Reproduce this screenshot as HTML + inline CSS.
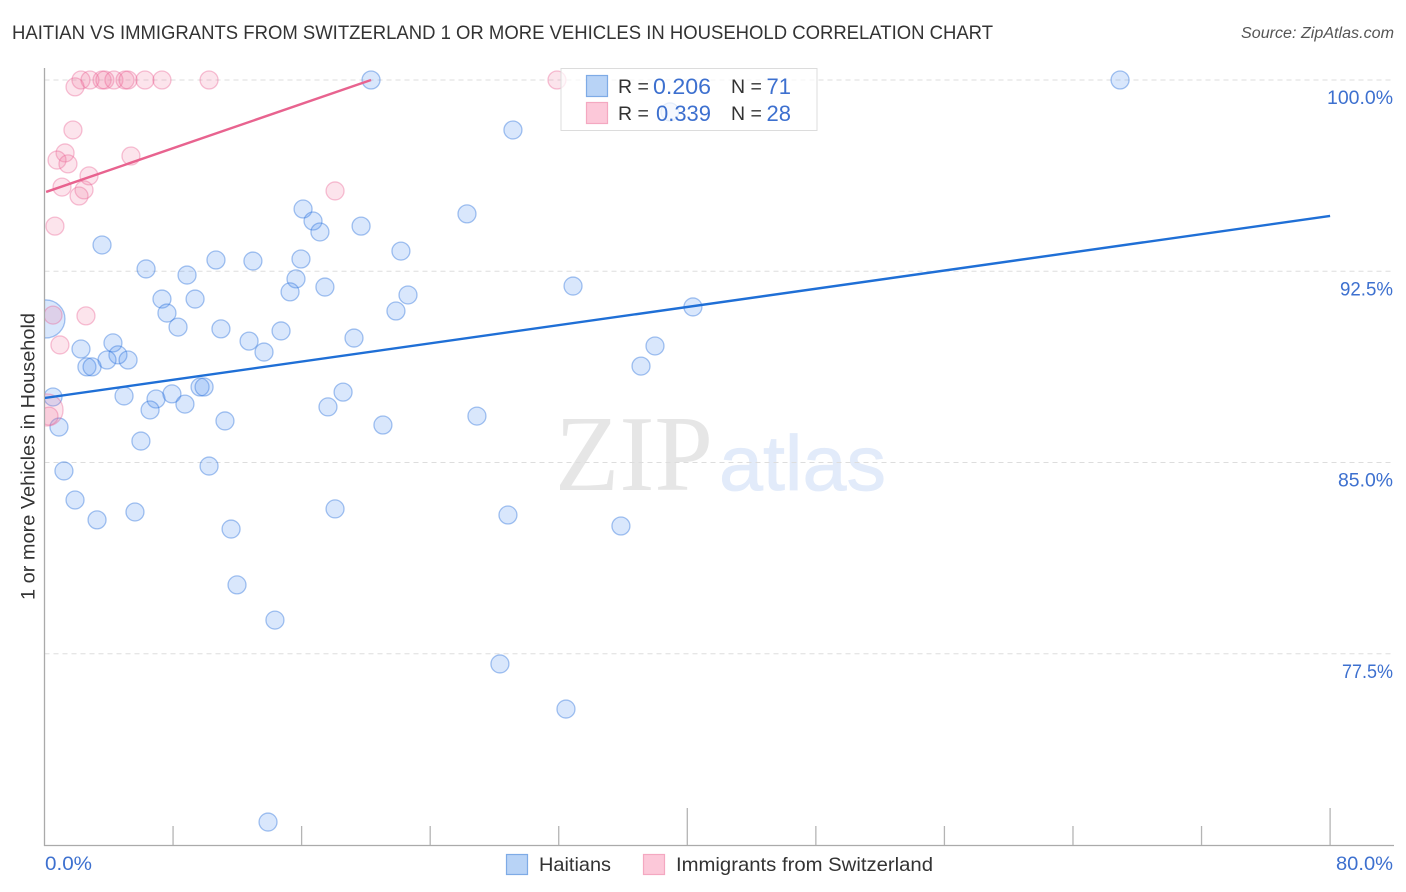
<!DOCTYPE html>
<html lang="en">
<head>
<meta charset="utf-8">
<title>Haitian vs Immigrants from Switzerland correlation chart</title>
<style>
html,body{margin:0;padding:0;background:#fff;}
svg{display:block;font-family:"Liberation Sans",sans-serif;}
</style>
</head>
<body>
<svg id="chart" xmlns="http://www.w3.org/2000/svg" width="1406" height="892" viewBox="0 0 1406 892">
  <defs>
    <clipPath id="plot-clip"><rect x="45" y="60" width="1350" height="786"/></clipPath>
  </defs>
  <rect width="1406" height="892" fill="#fff"/>
  <text x="12" y="39" font-size="19.5" fill="#333" textLength="981" lengthAdjust="spacingAndGlyphs">HAITIAN VS IMMIGRANTS FROM SWITZERLAND 1 OR MORE VEHICLES IN HOUSEHOLD CORRELATION CHART</text>
  <text x="1241" y="38" font-size="15.5" font-style="italic" fill="#555" textLength="153" lengthAdjust="spacingAndGlyphs">Source: ZipAtlas.com</text>

  <g>
    <text x="555" y="490" font-family="'Liberation Serif',serif" font-size="108" fill="#e6e6e6" textLength="158" lengthAdjust="spacingAndGlyphs">ZIP</text>
    <text x="719" y="490" font-size="78" fill="#e2ebfa" stroke="#e2ebfa" stroke-width="0.8" textLength="167" lengthAdjust="spacingAndGlyphs">atlas</text>
  </g>

  <g id="grid"></g>
  <g id="axes"></g>
  <g clip-path="url(#plot-clip)">
    <g id="points-a"></g>
    <g id="points-b"></g>
    <g id="trends"></g>
  </g>
  <g id="tick-labels"></g>

  <text transform="translate(34.5,456.5) rotate(-90)" text-anchor="middle" font-size="19.5" fill="#333" textLength="287" lengthAdjust="spacingAndGlyphs">1 or more Vehicles in Household</text>

  <g>
    <rect x="561" y="68.5" width="256" height="62" fill="#fff" fill-opacity="0.72" stroke="#dcdcdc" stroke-width="1"/>
    <rect x="586.5" y="75.5" width="21" height="21" fill="#b8d3f6" stroke="#7eabe6" stroke-width="1.2"/>
    <rect x="586.5" y="102.5" width="21" height="21" fill="#fcc8d9" stroke="#f4a8c1" stroke-width="1.2"/>
    <text x="618" y="93" font-size="19.5" fill="#333">R =</text>
    <text x="711" y="94" font-size="22" fill="#3d70cf" text-anchor="end" textLength="58" lengthAdjust="spacingAndGlyphs">0.206</text>
    <text x="731" y="93" font-size="19.5" fill="#333">N =</text>
    <text x="791" y="94" font-size="22" fill="#3d70cf" text-anchor="end">71</text>
    <text x="618" y="120" font-size="19.5" fill="#333">R =</text>
    <text x="711" y="121" font-size="22" fill="#3d70cf" text-anchor="end" textLength="55" lengthAdjust="spacingAndGlyphs">0.339</text>
    <text x="731" y="120" font-size="19.5" fill="#333">N =</text>
    <text x="791" y="121" font-size="22" fill="#3d70cf" text-anchor="end">28</text>
  </g>

  <g>
    <rect x="506.5" y="854.5" width="21" height="20" fill="#b8d3f6" stroke="#7eabe6" stroke-width="1.2"/>
    <text x="539" y="871" font-size="19.5" fill="#333" textLength="72" lengthAdjust="spacingAndGlyphs">Haitians</text>
    <rect x="643.5" y="854.5" width="21" height="20" fill="#fcc8d9" stroke="#f4a8c1" stroke-width="1.2"/>
    <text x="676" y="871" font-size="19.5" fill="#333" textLength="257" lengthAdjust="spacingAndGlyphs">Immigrants from Switzerland</text>
  </g>
</svg>
<script>
const haitiansX = [20.32,66.93,29.15,26.29,16.09,16.71,17.14,19.70,22.18,3.58,6.32,8.87,10.67,12.97,15.96,15.65,15.28,17.45,32.89,22.62,21.87,40.35,7.31,9.37,7.62,8.31,10.98,14.72,12.73,13.66,19.26,37.99,37.12,2.27,4.26,4.57,5.20,3.89,2.64,2.96,0.53,4.95,6.94,6.57,7.93,8.74,9.68,9.93,11.23,0.90,6.00,17.64,18.58,21.06,26.91,1.21,10.24,1.90,3.27,5.63,18.08,28.84,35.87,11.61,11.98,14.34,28.34,32.45,13.91,38.92];
const haitiansY = [100,100,98.04,94.75,94.94,94.47,94.04,94.27,93.29,93.53,92.59,92.35,92.94,92.90,92.98,92.20,91.69,91.88,91.92,91.57,90.94,91.10,91.41,91.41,90.86,90.31,90.24,90.16,89.76,89.33,89.88,89.57,88.78,89.45,89.69,89.22,89.02,89.02,88.75,88.75,87.57,87.61,87.49,87.06,87.69,87.29,87.96,87.96,86.63,86.39,85.84,87.18,87.76,86.47,86.82,84.67,84.86,83.53,82.75,83.06,83.18,82.94,82.51,82.39,80.20,78.82,77.10,75.33,70.90,98.75];
const haitiansLargeX = [0.09];
const haitiansLargeY = [90.63];
const switzerlandX = [2.27,2.83,3.58,3.76,4.32,5.01,5.20,6.25,7.31,10.24,31.89,1.90,1.77,1.28,0.78,1.46,5.38,2.77,1.09,2.46,2.15,0.65,18.08,0.53,2.58,0.96,0.28];
const switzerlandY = [100,100,100,100,100,100,100,100,100,100,100,99.73,98.04,97.14,96.86,96.71,97.02,96.24,95.80,95.69,95.45,94.27,95.65,90.78,90.75,89.61,86.82];
const switzerlandLargeX = [0.16];
const switzerlandLargeY = [87.06];
const haitiansTrendX = [0, 80];
const haitiansTrendY = [87.53, 94.67];
const switzerlandTrendX = [0.1, 20.32];
const switzerlandTrendY = [95.61, 100];
const xTickValues = [8,16,24,32,40,48,56,64,72,80];
const xMajorTicks = [40,80];
const xEndLabels = ["0.0%","80.0%"];
const yGridValues = [100,92.5,85,77.5];
const yTickLabels = ["100.0%","92.5%","85.0%","77.5%"];

const sx = v => 44.5 + v * 16.07;
const sy = v => 80 + (100 - v) * 25.5;
const NS = "http://www.w3.org/2000/svg";
const SMALL_R = 9;
const LARGE_R_A = 19;
const LARGE_R_B = 16;
const BLUE = ["rgba(80,145,240,0.22)","rgba(45,115,220,0.42)"];
const PINK = ["rgba(240,120,160,0.2)","rgba(232,90,140,0.36)"];

function make(tag, attrs, parent){
  const el = document.createElementNS(NS, tag);
  for (const k in attrs) el.setAttribute(k, attrs[k]);
  parent.appendChild(el);
  return el;
}

const gridG = document.getElementById("grid");
yGridValues.forEach(v => {
  const el = make("line",{x1:44.5,x2:1394,y1:sy(v),y2:sy(v),stroke:"#dddddd","stroke-width":1,"stroke-dasharray":"5 4"},gridG);
  
  
});

const axesG = document.getElementById("axes");
const yAxis = make("line",{x1:44.5,x2:44.5,y1:68,y2:846,stroke:"#aaaaaa","stroke-width":1.3},axesG);


const xAxis = make("line",{x1:44,x2:1394,y1:845.5,y2:845.5,stroke:"#aaaaaa","stroke-width":1.3},axesG);


xTickValues.forEach(v => {
  const top = xMajorTicks.includes(v) ? 808 : 826;
  const el = make("line",{x1:sx(v),x2:sx(v),y1:top,y2:845,stroke:"#b4b4b4","stroke-width":1.3},axesG);
  
  
});

const labelsG = document.getElementById("tick-labels");
const yLabelWidths = [66,53,55,51];
yTickLabels.forEach((t,i) => {
  const el = make("text",{x:1393,y:sy(yGridValues[i])+24,"font-size":19.5,fill:"#3d70cf","text-anchor":"end",textLength:yLabelWidths[i],lengthAdjust:"spacingAndGlyphs"},labelsG);
  el.textContent = t;
  
  
});
const x0Label = make("text",{x:45,y:870,"font-size":19.5,fill:"#3d70cf",textLength:47,lengthAdjust:"spacingAndGlyphs"},labelsG);
x0Label.textContent = xEndLabels[0];


const x1Label = make("text",{x:1393,y:870,"font-size":19.5,fill:"#3d70cf","text-anchor":"end",textLength:57,lengthAdjust:"spacingAndGlyphs"},labelsG);
x1Label.textContent = xEndLabels[1];



function drawPoints(parent, xs, ys, r, colors, name){
  xs.forEach((x,i) => {
    const c = make("circle",{cx:sx(x),cy:sy(ys[i]),r:r,fill:colors[0],stroke:colors[1],"stroke-width":1.3},parent);
    
    
  });
}
const aG = document.getElementById("points-a");
const bG = document.getElementById("points-b");
drawPoints(aG, haitiansLargeX, haitiansLargeY, LARGE_R_A, BLUE, "haitians-point-large");
drawPoints(aG, haitiansX, haitiansY, SMALL_R, BLUE, "haitians-point");
drawPoints(bG, switzerlandLargeX, switzerlandLargeY, LARGE_R_B, PINK, "switzerland-point-large");
drawPoints(bG, switzerlandX, switzerlandY, SMALL_R, PINK, "switzerland-point");

const trendG = document.getElementById("trends");
const blueLine = make("line",{x1:sx(haitiansTrendX[0]),y1:sy(haitiansTrendY[0]),x2:sx(haitiansTrendX[1]),y2:sy(haitiansTrendY[1]),stroke:"#1f6fd6","stroke-width":2.4},trendG);


const pinkLine = make("line",{x1:sx(switzerlandTrendX[0]),y1:sy(switzerlandTrendY[0]),x2:sx(switzerlandTrendX[1]),y2:sy(switzerlandTrendY[1]),stroke:"#e8638f","stroke-width":2.4},trendG);


</script>
</body>
</html>
